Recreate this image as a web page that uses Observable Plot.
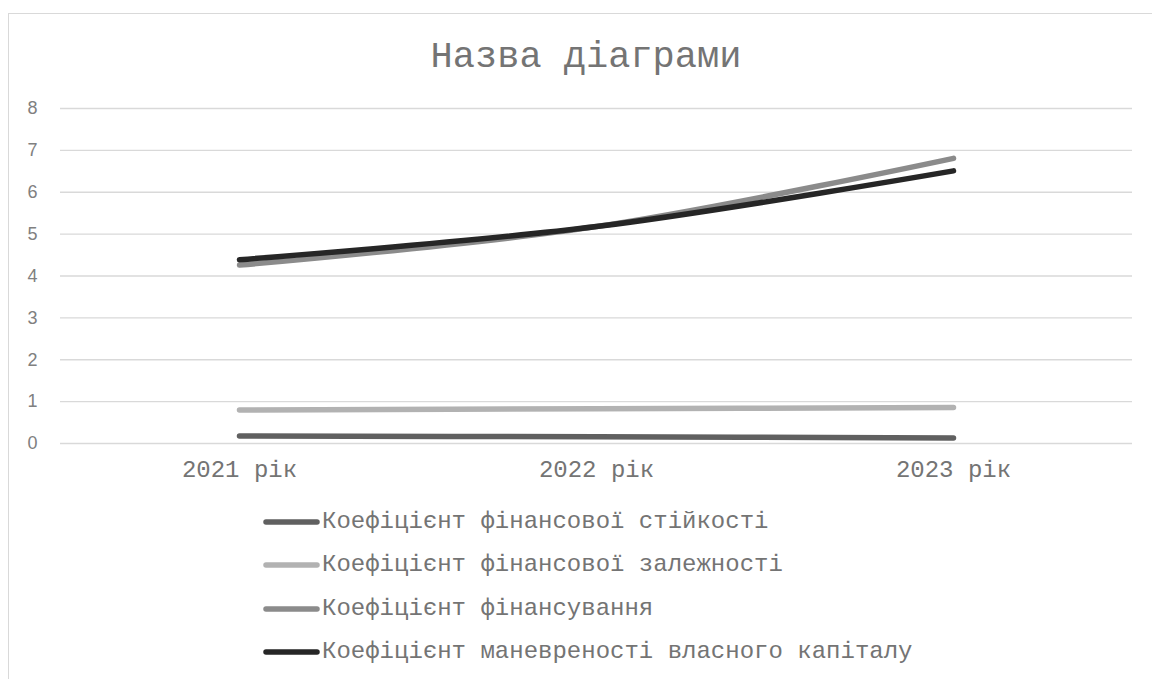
<!DOCTYPE html>
<html>
<head>
<meta charset="utf-8">
<script src="https://cdn.jsdelivr.net/npm/d3@7"></script>
<script src="https://cdn.jsdelivr.net/npm/@observablehq/plot@0.6"></script>
<style>
  html, body { margin: 0; padding: 0; background: #fff; }
  #wrap { position: relative; width: 1152px; height: 679px; overflow: hidden; background: #fff; }
  #frame { position: absolute; left: 8px; top: 13px; width: 1300px; height: 1000px; border: 1.4px solid #d9d9d9; box-sizing: border-box; }
  #content { position: relative; }
  #title { height: 88px; box-sizing: border-box; padding-top: 39px; text-align: center; padding-left: 20px;
           font-family: "Liberation Mono", "Courier New", monospace; font-size: 37px; line-height: 37px; color: #747474; white-space: pre; }
  #chart svg { display: block; }
  #legend { padding-top: 12.4px; padding-left: 263px; }
  .row { display: flex; align-items: center; height: 43.3px; }
  .row span { font-family: "Liberation Mono", "Courier New", monospace; font-size: 24px; line-height: 24px; color: #747474; white-space: pre; margin-left: 2px; }
  .row svg { display: block; }
</style>
</head>
<body>
<div id="wrap">
  <div id="frame"></div>
  <div id="content">
    <div id="title"></div>
    <div id="chart"></div>
    <div id="legend"></div>
  </div>
</div>
<script>
const title = "Назва діаграми";
const years = ["2021 рік", "2022 рік", "2023 рік"];
const seriesNames = [
  "Коефіцієнт фінансової стійкості",
  "Коефіцієнт фінансової залежності",
  "Коефіцієнт фінансування",
  "Коефіцієнт маневреності власного капіталу"
];
const stiikosti = [0.18, 0.16, 0.13];
const zalezhnosti = [0.80, 0.83, 0.86];
const finansuvannia = [4.26, 5.18, 6.81];
const manevrenosti = [4.39, 5.18, 6.51];
const yTicks = [0, 1, 2, 3, 4, 5, 6, 7, 8];
const colors = ["#606060", "#b2b2b2", "#8b8b8b", "#262626"];

const seriesValues = [stiikosti, zalezhnosti, finansuvannia, manevrenosti];
const data = seriesNames.flatMap((name, i) =>
  years.map((year, j) => ({ series: name, year, value: seriesValues[i][j] }))
);

document.getElementById("title").textContent = title;

const chart = Plot.plot({
  width: 1152,
  height: 400,
  marginTop: 20,
  marginBottom: 45,
  marginLeft: 60,
  marginRight: 20,
  style: { background: "transparent", color: "#595959" },
  x: { type: "point", domain: years, padding: 0.5, label: null },
  y: { domain: [0, 8], ticks: yTicks, label: null },
  marks: [
    Plot.ruleY(yTicks, { stroke: "#d9d9d9", strokeWidth: 1.4 }),
    Plot.axisY(yTicks, {
      tickSize: 0, tickPadding: 23, label: null,
      fontFamily: "'Liberation Sans', Arial, sans-serif", fontSize: 18, fill: "#808080"
    }),
    Plot.axisX({
      tickSize: 0, tickPadding: 16, label: null,
      fontFamily: "'Liberation Mono', 'Courier New', monospace", fontSize: 24, fill: "#747474"
    }),
    ...seriesNames.map((name, i) =>
      Plot.lineY(data.filter(d => d.series === name), {
        x: "year", y: "value", stroke: colors[i], strokeWidth: 5.5,
        strokeLinecap: "round", strokeLinejoin: "round", curve: "cardinal"
      })
    )
  ]
});
document.getElementById("chart").appendChild(chart);

const legend = document.getElementById("legend");
seriesNames.forEach((name, i) => {
  const row = document.createElement("div");
  row.className = "row";
  const ns = "http://www.w3.org/2000/svg";
  const svg = document.createElementNS(ns, "svg");
  svg.setAttribute("width", "57");
  svg.setAttribute("height", "10");
  const line = document.createElementNS(ns, "line");
  line.setAttribute("x1", "3"); line.setAttribute("x2", "54");
  line.setAttribute("y1", "5"); line.setAttribute("y2", "5");
  line.setAttribute("stroke", colors[i]);
  line.setAttribute("stroke-width", "5.5");
  line.setAttribute("stroke-linecap", "round");
  svg.appendChild(line);
  const span = document.createElement("span");
  span.textContent = name;
  row.appendChild(svg);
  row.appendChild(span);
  legend.appendChild(row);
});
</script>
</body>
</html>
